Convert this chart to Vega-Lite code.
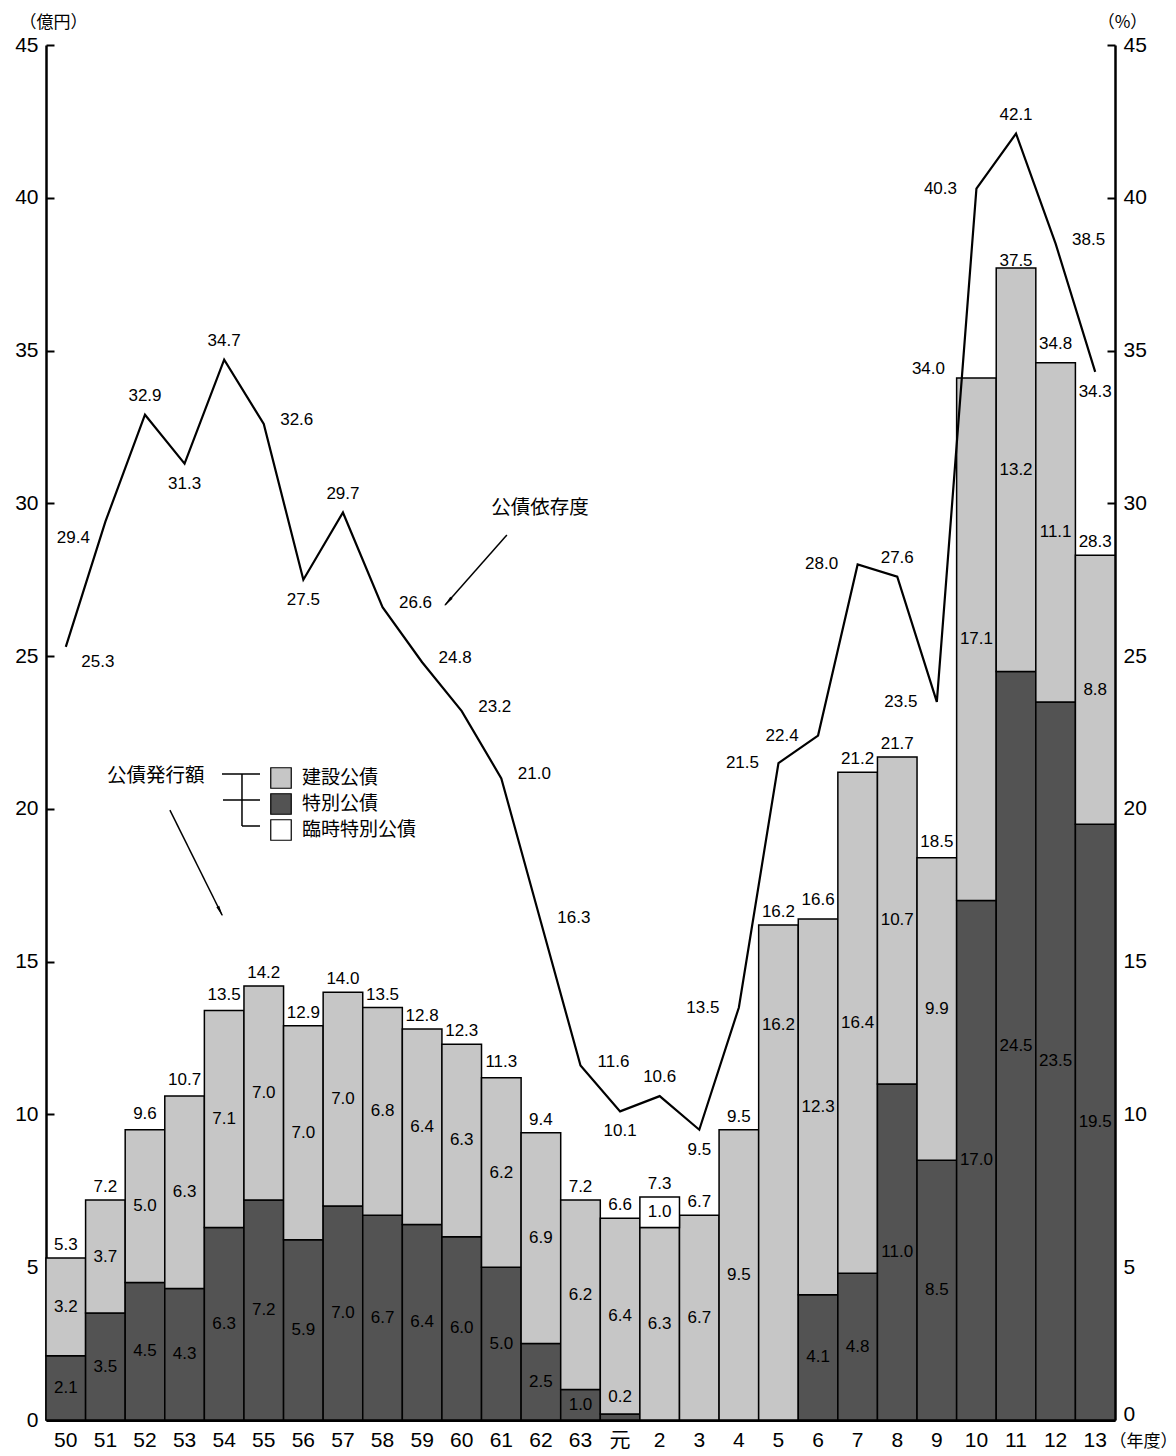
{
  "$schema": "https://vega.github.io/schema/vega-lite/v6.json",
  "width": 1069,
  "height": 1375,
  "autosize": {"type": "none"},
  "padding": {"left": 46, "top": 45, "right": 61, "bottom": 36},
  "background": "white",
  "config": {
    "font": "Liberation Sans",
    "view": {"stroke": null},
    "text": {"font": "Liberation Sans", "fontSize": 17, "color": "black"}
  },
  "datasets": {
    "bonds": [
      {"year": "50", "type": "特別公債", "value": 2.1}, {"year": "50", "type": "建設公債", "value": 3.2},
      {"year": "51", "type": "特別公債", "value": 3.5}, {"year": "51", "type": "建設公債", "value": 3.7},
      {"year": "52", "type": "特別公債", "value": 4.5}, {"year": "52", "type": "建設公債", "value": 5.0},
      {"year": "53", "type": "特別公債", "value": 4.3}, {"year": "53", "type": "建設公債", "value": 6.3},
      {"year": "54", "type": "特別公債", "value": 6.3}, {"year": "54", "type": "建設公債", "value": 7.1},
      {"year": "55", "type": "特別公債", "value": 7.2}, {"year": "55", "type": "建設公債", "value": 7.0},
      {"year": "56", "type": "特別公債", "value": 5.9}, {"year": "56", "type": "建設公債", "value": 7.0},
      {"year": "57", "type": "特別公債", "value": 7.0}, {"year": "57", "type": "建設公債", "value": 7.0},
      {"year": "58", "type": "特別公債", "value": 6.7}, {"year": "58", "type": "建設公債", "value": 6.8},
      {"year": "59", "type": "特別公債", "value": 6.4}, {"year": "59", "type": "建設公債", "value": 6.4},
      {"year": "60", "type": "特別公債", "value": 6.0}, {"year": "60", "type": "建設公債", "value": 6.3},
      {"year": "61", "type": "特別公債", "value": 5.0}, {"year": "61", "type": "建設公債", "value": 6.2},
      {"year": "62", "type": "特別公債", "value": 2.5}, {"year": "62", "type": "建設公債", "value": 6.9},
      {"year": "63", "type": "特別公債", "value": 1.0}, {"year": "63", "type": "建設公債", "value": 6.2},
      {"year": "元", "type": "特別公債", "value": 0.2}, {"year": "元", "type": "建設公債", "value": 6.4},
      {"year": "2", "type": "建設公債", "value": 6.3}, {"year": "2", "type": "臨時特別公債", "value": 1.0},
      {"year": "3", "type": "建設公債", "value": 6.7},
      {"year": "4", "type": "建設公債", "value": 9.5},
      {"year": "5", "type": "建設公債", "value": 16.2},
      {"year": "6", "type": "特別公債", "value": 4.1}, {"year": "6", "type": "建設公債", "value": 12.3},
      {"year": "7", "type": "特別公債", "value": 4.8}, {"year": "7", "type": "建設公債", "value": 16.4},
      {"year": "8", "type": "特別公債", "value": 11.0}, {"year": "8", "type": "建設公債", "value": 10.7},
      {"year": "9", "type": "特別公債", "value": 8.5}, {"year": "9", "type": "建設公債", "value": 9.9},
      {"year": "10", "type": "特別公債", "value": 17.0}, {"year": "10", "type": "建設公債", "value": 17.1},
      {"year": "11", "type": "特別公債", "value": 24.5}, {"year": "11", "type": "建設公債", "value": 13.2},
      {"year": "12", "type": "特別公債", "value": 23.5}, {"year": "12", "type": "建設公債", "value": 11.1},
      {"year": "13", "type": "特別公債", "value": 19.5}, {"year": "13", "type": "建設公債", "value": 8.8}
    ],
    "totals": [
      {"year": "50", "total": 5.3}, {"year": "51", "total": 7.2}, {"year": "52", "total": 9.6},
      {"year": "53", "total": 10.7}, {"year": "54", "total": 13.5}, {"year": "55", "total": 14.2},
      {"year": "56", "total": 12.9}, {"year": "57", "total": 14.0}, {"year": "58", "total": 13.5},
      {"year": "59", "total": 12.8}, {"year": "60", "total": 12.3}, {"year": "61", "total": 11.3},
      {"year": "62", "total": 9.4}, {"year": "63", "total": 7.2}, {"year": "元", "total": 6.6},
      {"year": "2", "total": 7.3}, {"year": "3", "total": 6.7}, {"year": "4", "total": 9.5},
      {"year": "5", "total": 16.2}, {"year": "6", "total": 16.6}, {"year": "7", "total": 21.2},
      {"year": "8", "total": 21.7}, {"year": "9", "total": 18.5}, {"year": "10", "total": 34.0},
      {"year": "11", "total": 37.5}, {"year": "12", "total": 34.8}, {"year": "13", "total": 28.3}
    ],
    "ratio": [
      {"year": "50", "ratio": 25.3}, {"year": "51", "ratio": 29.4}, {"year": "52", "ratio": 32.9},
      {"year": "53", "ratio": 31.3}, {"year": "54", "ratio": 34.7}, {"year": "55", "ratio": 32.6},
      {"year": "56", "ratio": 27.5}, {"year": "57", "ratio": 29.7}, {"year": "58", "ratio": 26.6},
      {"year": "59", "ratio": 24.8}, {"year": "60", "ratio": 23.2}, {"year": "61", "ratio": 21.0},
      {"year": "62", "ratio": 16.3}, {"year": "63", "ratio": 11.6}, {"year": "元", "ratio": 10.1},
      {"year": "2", "ratio": 10.6}, {"year": "3", "ratio": 9.5}, {"year": "4", "ratio": 13.5},
      {"year": "5", "ratio": 21.5}, {"year": "6", "ratio": 22.4}, {"year": "7", "ratio": 28.0},
      {"year": "8", "ratio": 27.6}, {"year": "9", "ratio": 23.5}, {"year": "10", "ratio": 40.3},
      {"year": "11", "ratio": 42.1}, {"year": "12", "ratio": 38.5}, {"year": "13", "ratio": 34.3}
    ]
  },
  "resolve": {
    "scale": {"x": "independent", "y": "independent"},
    "axis": {"x": "independent", "y": "independent"}
  },
  "layer": [
    {
      "data": {"name": "bonds"},
      "transform": [{"filter": "datum.type != '臨時特別公債'"}],
      "mark": {"type": "bar", "stroke": "black", "strokeWidth": 1.5},
      "encoding": {
        "x": {
          "field": "year", "type": "ordinal",
          "scale": {"type": "band", "domain": ["50","51","52","53","54","55","56","57","58","59","60","61","62","63","元","2","3","4","5","6","7","8","9","10","11","12","13"], "paddingInner": 0, "paddingOuter": 0},
          "axis": {
            "orient": "bottom", "ticks": false, "labelAngle": 0, "labelFontSize": 21, "labelColor": "black",
            "labelFont": "Liberation Sans, Noto Sans CJK JP", "labelPadding": 9,
            "domainColor": "black", "domainWidth": 3,
            "title": "（年度）", "titleFont": "Noto Sans CJK JP", "titleFontSize": 17, "titleFontWeight": "normal",
            "titleColor": "black", "titleX": 1097, "titleY": 21, "titleAlign": "center", "titleBaseline": "middle", "titleAngle": 0
          }
        },
        "y": {
          "field": "value", "type": "quantitative", "stack": "zero",
          "scale": {"domain": [0, 45], "nice": false},
          "axis": {
            "orient": "left", "values": [0,5,10,15,20,25,30,35,40,45], "grid": false,
            "tickSize": -8, "tickWidth": 2, "tickColor": "black", "domainColor": "black", "domainWidth": 2.5,
            "labelFontSize": 21, "labelColor": "black", "labelPadding": 16,
            "title": "（億円）", "titleFont": "Noto Sans CJK JP", "titleFontSize": 17, "titleFontWeight": "normal",
            "titleColor": "black", "titleAngle": 0, "titleX": 7, "titleY": -23, "titleAlign": "center", "titleBaseline": "middle"
          }
        },
        "order": {"field": "type", "sort": "descending"},
        "fill": {
          "field": "type", "type": "nominal",
          "scale": {"domain": ["建設公債", "特別公債", "臨時特別公債"], "range": ["#c6c6c6", "#535353", "#ffffff"]},
          "legend": {
            "orient": "none", "legendX": 61, "legendY": 722, "padding": 0,
            "title": "公債発行額", "titleOrient": "left", "titleAngle": 0, "titleFont": "Noto Sans CJK JP",
            "titleFontSize": 19.5, "titleFontWeight": "normal", "titleColor": "black", "titlePadding": 65,
            "titleAnchor": "start", "titleBaseline": "top",
            "symbolType": "square", "symbolSize": 420, "symbolStrokeColor": "black", "symbolStrokeWidth": 1.2,
            "labelFont": "Noto Sans CJK JP", "labelFontSize": 19, "labelColor": "black", "labelOffset": 10, "rowPadding": 0
          }
        }
      }
    },
    {
      "data": {"name": "bonds"},
      "transform": [
        {"filter": "datum.type != '特別公債'"},
        {"stack": "value", "groupby": ["year"], "sort": [{"field": "type", "order": "ascending"}], "as": ["v0", "v1"]},
        {"filter": "datum.type == '臨時特別公債'"}
      ],
      "mark": {"type": "bar", "stroke": "black", "strokeWidth": 1.5},
      "encoding": {
        "x": {"field": "year", "type": "ordinal", "scale": {"type": "band", "domain": ["50","51","52","53","54","55","56","57","58","59","60","61","62","63","元","2","3","4","5","6","7","8","9","10","11","12","13"], "paddingInner": 0, "paddingOuter": 0}, "axis": null},
        "y": {"field": "v0", "type": "quantitative", "scale": {"domain": [0, 45], "nice": false}, "axis": null},
        "y2": {"field": "v1"},
        "fill": {
          "field": "type", "type": "nominal",
          "scale": {"domain": ["建設公債", "特別公債", "臨時特別公債"], "range": ["#c6c6c6", "#535353", "#ffffff"]},
          "legend": {
            "orient": "none", "legendX": 61, "legendY": 722, "padding": 0,
            "title": "公債発行額", "titleOrient": "left", "titleAngle": 0, "titleFont": "Noto Sans CJK JP",
            "titleFontSize": 19.5, "titleFontWeight": "normal", "titleColor": "black", "titlePadding": 65,
            "titleAnchor": "start", "titleBaseline": "top",
            "symbolType": "square", "symbolSize": 420, "symbolStrokeColor": "black", "symbolStrokeWidth": 1.2,
            "labelFont": "Noto Sans CJK JP", "labelFontSize": 19, "labelColor": "black", "labelOffset": 10, "rowPadding": 0
          }
        }
      }
    },
    {
      "data": {"name": "bonds"},
      "transform": [{"filter": "datum.type != '臨時特別公債'"}],
      "mark": {"type": "text", "baseline": "middle"},
      "encoding": {
        "x": {"field": "year", "type": "ordinal", "scale": {"type": "band", "domain": ["50","51","52","53","54","55","56","57","58","59","60","61","62","63","元","2","3","4","5","6","7","8","9","10","11","12","13"], "paddingInner": 0, "paddingOuter": 0}, "axis": null},
        "y": {"field": "value", "type": "quantitative", "stack": "zero", "bandPosition": 0.5, "scale": {"domain": [0, 45], "nice": false}, "axis": null},
        "detail": {"field": "type", "type": "nominal"},
        "order": {"field": "type", "sort": "descending"},
        "text": {"condition": {"test": "datum.value < 0.5 || datum.year == '5'", "value": ""}, "field": "value", "type": "quantitative", "format": ".1f"}
      }
    },
    {
      "data": {"name": "bonds"},
      "transform": [
        {"filter": "datum.type != '特別公債'"},
        {"stack": "value", "groupby": ["year"], "sort": [{"field": "type", "order": "ascending"}], "as": ["v0", "v1"]},
        {"filter": "datum.type == '臨時特別公債'"}
      ],
      "mark": {"type": "text", "baseline": "middle", "dy": 15},
      "encoding": {
        "x": {"field": "year", "type": "ordinal", "scale": {"type": "band", "domain": ["50","51","52","53","54","55","56","57","58","59","60","61","62","63","元","2","3","4","5","6","7","8","9","10","11","12","13"], "paddingInner": 0, "paddingOuter": 0}, "axis": null},
        "y": {"field": "v1", "type": "quantitative", "scale": {"domain": [0, 45], "nice": false}, "axis": null},
        "text": {"field": "value", "type": "quantitative", "format": ".1f"}
      }
    },
    {
      "data": {"name": "bonds"},
      "transform": [{"filter": "datum.year == '元' && datum.type == '特別公債'"}],
      "mark": {"type": "text", "baseline": "middle", "dy": -17},
      "encoding": {
        "x": {"field": "year", "type": "ordinal", "scale": {"type": "band", "domain": ["50","51","52","53","54","55","56","57","58","59","60","61","62","63","元","2","3","4","5","6","7","8","9","10","11","12","13"], "paddingInner": 0, "paddingOuter": 0}, "axis": null},
        "y": {"field": "value", "type": "quantitative", "scale": {"domain": [0, 45], "nice": false}, "axis": null},
        "text": {"field": "value", "type": "quantitative", "format": ".1f"}
      }
    },
    {
      "data": {"name": "bonds"},
      "transform": [{"filter": "datum.year == '5'"}],
      "mark": {"type": "text", "baseline": "middle", "dy": 100},
      "encoding": {
        "x": {"field": "year", "type": "ordinal", "scale": {"type": "band", "domain": ["50","51","52","53","54","55","56","57","58","59","60","61","62","63","元","2","3","4","5","6","7","8","9","10","11","12","13"], "paddingInner": 0, "paddingOuter": 0}, "axis": null},
        "y": {"field": "value", "type": "quantitative", "scale": {"domain": [0, 45], "nice": false}, "axis": null},
        "text": {"field": "value", "type": "quantitative", "format": ".1f"}
      }
    },
    {
      "data": {"name": "totals"},
      "transform": [{"filter": "datum.year != '10'"}],
      "mark": {"type": "text", "baseline": "middle", "dy": -13},
      "encoding": {
        "x": {"field": "year", "type": "ordinal", "scale": {"type": "band", "domain": ["50","51","52","53","54","55","56","57","58","59","60","61","62","63","元","2","3","4","5","6","7","8","9","10","11","12","13"], "paddingInner": 0, "paddingOuter": 0}, "axis": null},
        "y": {"field": "total", "type": "quantitative", "scale": {"domain": [0, 45], "nice": false}, "axis": null},
        "text": {"field": "total", "type": "quantitative", "format": ".1f"}
      }
    },
    {
      "data": {"name": "totals"},
      "transform": [{"filter": "datum.year == '10'"}],
      "mark": {"type": "text", "baseline": "middle", "dx": -48, "dy": -12},
      "encoding": {
        "x": {"field": "year", "type": "ordinal", "scale": {"type": "band", "domain": ["50","51","52","53","54","55","56","57","58","59","60","61","62","63","元","2","3","4","5","6","7","8","9","10","11","12","13"], "paddingInner": 0, "paddingOuter": 0}, "axis": null},
        "y": {"field": "total", "type": "quantitative", "scale": {"domain": [0, 45], "nice": false}, "axis": null},
        "text": {"field": "total", "type": "quantitative", "format": ".1f"}
      }
    },
    {
      "data": {"name": "ratio"},
      "mark": {"type": "line", "color": "black", "strokeWidth": 2.2},
      "encoding": {
        "x": {"field": "year", "type": "ordinal", "sort": null, "scale": {"type": "band", "domain": ["50","51","52","53","54","55","56","57","58","59","60","61","62","63","元","2","3","4","5","6","7","8","9","10","11","12","13"], "paddingInner": 0, "paddingOuter": 0}, "axis": null},
        "y": {
          "field": "ratio", "type": "quantitative",
          "scale": {"domain": [0, 45], "nice": false},
          "axis": {
            "orient": "right", "values": [0,5,10,15,20,25,30,35,40,45], "grid": false,
            "tickSize": -8, "tickWidth": 2, "tickColor": "black", "domainColor": "black", "domainWidth": 2.5,
            "labelFontSize": 21, "labelColor": "black", "labelPadding": 16,
            "labelBaseline": {"condition": {"test": "datum.value == 0", "value": "alphabetic"}, "value": "middle"},
            "title": "（%）", "titleFont": "Noto Sans CJK JP", "titleFontSize": 17, "titleFontWeight": "normal",
            "titleColor": "black", "titleAngle": 0, "titleX": 7, "titleY": -23, "titleAlign": "center", "titleBaseline": "middle"
          }
        }
      }
    },
    {
      "data": {"name": "ratio"},
      "transform": [{"filter": {"field": "year", "oneOf": ["55","58","59","60","61","62","63","12"]}}],
      "mark": {"type": "text", "baseline": "middle", "dx": 33, "dy": -4},
      "encoding": {
        "x": {"field": "year", "type": "ordinal", "scale": {"type": "band", "domain": ["50","51","52","53","54","55","56","57","58","59","60","61","62","63","元","2","3","4","5","6","7","8","9","10","11","12","13"], "paddingInner": 0, "paddingOuter": 0}, "axis": null},
        "y": {"field": "ratio", "type": "quantitative", "scale": {"domain": [0, 45], "nice": false}, "axis": null},
        "text": {"field": "ratio", "type": "quantitative", "format": ".1f"}
      }
    },
    {
      "data": {"name": "ratio"},
      "transform": [{"filter": {"field": "year", "oneOf": ["50"]}}],
      "mark": {"type": "text", "baseline": "middle", "dx": 32, "dy": 15},
      "encoding": {
        "x": {"field": "year", "type": "ordinal", "scale": {"type": "band", "domain": ["50","51","52","53","54","55","56","57","58","59","60","61","62","63","元","2","3","4","5","6","7","8","9","10","11","12","13"], "paddingInner": 0, "paddingOuter": 0}, "axis": null},
        "y": {"field": "ratio", "type": "quantitative", "scale": {"domain": [0, 45], "nice": false}, "axis": null},
        "text": {"field": "ratio", "type": "quantitative", "format": ".1f"}
      }
    },
    {
      "data": {"name": "ratio"},
      "transform": [{"filter": {"field": "year", "oneOf": ["51"]}}],
      "mark": {"type": "text", "baseline": "middle", "dx": -32, "dy": 16},
      "encoding": {
        "x": {"field": "year", "type": "ordinal", "scale": {"type": "band", "domain": ["50","51","52","53","54","55","56","57","58","59","60","61","62","63","元","2","3","4","5","6","7","8","9","10","11","12","13"], "paddingInner": 0, "paddingOuter": 0}, "axis": null},
        "y": {"field": "ratio", "type": "quantitative", "scale": {"domain": [0, 45], "nice": false}, "axis": null},
        "text": {"field": "ratio", "type": "quantitative", "format": ".1f"}
      }
    },
    {
      "data": {"name": "ratio"},
      "transform": [{"filter": {"field": "year", "oneOf": ["4","5","6","7","9","10"]}}],
      "mark": {"type": "text", "baseline": "middle", "dx": -36, "dy": 0},
      "encoding": {
        "x": {"field": "year", "type": "ordinal", "scale": {"type": "band", "domain": ["50","51","52","53","54","55","56","57","58","59","60","61","62","63","元","2","3","4","5","6","7","8","9","10","11","12","13"], "paddingInner": 0, "paddingOuter": 0}, "axis": null},
        "y": {"field": "ratio", "type": "quantitative", "scale": {"domain": [0, 45], "nice": false}, "axis": null},
        "text": {"field": "ratio", "type": "quantitative", "format": ".1f"}
      }
    },
    {
      "data": {"name": "ratio"},
      "transform": [{"filter": {"field": "year", "oneOf": ["52","54","57","2","8","11"]}}],
      "mark": {"type": "text", "baseline": "middle", "dy": -19},
      "encoding": {
        "x": {"field": "year", "type": "ordinal", "scale": {"type": "band", "domain": ["50","51","52","53","54","55","56","57","58","59","60","61","62","63","元","2","3","4","5","6","7","8","9","10","11","12","13"], "paddingInner": 0, "paddingOuter": 0}, "axis": null},
        "y": {"field": "ratio", "type": "quantitative", "scale": {"domain": [0, 45], "nice": false}, "axis": null},
        "text": {"field": "ratio", "type": "quantitative", "format": ".1f"}
      }
    },
    {
      "data": {"name": "ratio"},
      "transform": [{"filter": {"field": "year", "oneOf": ["53","56","元","3","13"]}}],
      "mark": {"type": "text", "baseline": "middle", "dy": 20},
      "encoding": {
        "x": {"field": "year", "type": "ordinal", "scale": {"type": "band", "domain": ["50","51","52","53","54","55","56","57","58","59","60","61","62","63","元","2","3","4","5","6","7","8","9","10","11","12","13"], "paddingInner": 0, "paddingOuter": 0}, "axis": null},
        "y": {"field": "ratio", "type": "quantitative", "scale": {"domain": [0, 45], "nice": false}, "axis": null},
        "text": {"field": "ratio", "type": "quantitative", "format": ".1f"}
      }
    },
    {
      "data": {"values": [{}]},
      "mark": {"type": "text", "text": "公債依存度", "font": "Noto Sans CJK JP", "fontSize": 19.5, "baseline": "middle"},
      "encoding": {
        "x": {"datum": 12.48, "type": "quantitative", "scale": {"domain": [0, 27], "nice": false, "zero": false}, "axis": null},
        "y": {"datum": 29.84, "type": "quantitative", "scale": {"domain": [0, 45], "nice": false, "zero": false}, "axis": null}
      }
    },
    {
      "data": {"values": [{}]},
      "mark": {"type": "rule", "color": "black", "strokeWidth": 1.5},
      "encoding": {
        "x": {"datum": 11.64, "type": "quantitative", "scale": {"domain": [0, 27], "nice": false, "zero": false}, "axis": null},
        "y": {"datum": 28.96, "type": "quantitative", "scale": {"domain": [0, 45], "nice": false, "zero": false}, "axis": null},
        "x2": {"datum": 10.08},
        "y2": {"datum": 26.67}
      }
    },
    {
      "data": {"values": [{}]},
      "mark": {"type": "point", "shape": "wedge", "filled": true, "color": "black", "size": 160, "angle": 221.5, "opacity": 1},
      "encoding": {
        "x": {"datum": 10.18, "type": "quantitative", "scale": {"domain": [0, 27], "nice": false, "zero": false}, "axis": null},
        "y": {"datum": 26.82, "type": "quantitative", "scale": {"domain": [0, 45], "nice": false, "zero": false}, "axis": null}
      }
    },
    {
      "data": {"values": [{}]},
      "mark": {"type": "rule", "color": "black", "strokeWidth": 1.5},
      "encoding": {
        "x": {"datum": 3.13, "type": "quantitative", "scale": {"domain": [0, 27], "nice": false, "zero": false}, "axis": null},
        "y": {"datum": 19.96, "type": "quantitative", "scale": {"domain": [0, 45], "nice": false, "zero": false}, "axis": null},
        "x2": {"datum": 4.45},
        "y2": {"datum": 16.52}
      }
    },
    {
      "data": {"values": [{}]},
      "mark": {"type": "point", "shape": "wedge", "filled": true, "color": "black", "size": 160, "angle": 153.6, "opacity": 1},
      "encoding": {
        "x": {"datum": 4.38, "type": "quantitative", "scale": {"domain": [0, 27], "nice": false, "zero": false}, "axis": null},
        "y": {"datum": 16.70, "type": "quantitative", "scale": {"domain": [0, 45], "nice": false, "zero": false}, "axis": null}
      }
    },
    {
      "data": {"values": [{}]},
      "mark": {"type": "rule", "color": "black", "strokeWidth": 1.5},
      "encoding": {
        "x": {"datum": 4.445, "type": "quantitative", "scale": {"domain": [0, 27], "nice": false, "zero": false}, "axis": null},
        "y": {"datum": 21.14, "type": "quantitative", "scale": {"domain": [0, 45], "nice": false, "zero": false}, "axis": null},
        "x2": {"datum": 5.405},
        "y2": {"datum": 21.14}
      }
    },
    {
      "data": {"values": [{}]},
      "mark": {"type": "rule", "color": "black", "strokeWidth": 1.5},
      "encoding": {
        "x": {"datum": 4.47, "type": "quantitative", "scale": {"domain": [0, 27], "nice": false, "zero": false}, "axis": null},
        "y": {"datum": 20.29, "type": "quantitative", "scale": {"domain": [0, 45], "nice": false, "zero": false}, "axis": null},
        "x2": {"datum": 5.405},
        "y2": {"datum": 20.29}
      }
    },
    {
      "data": {"values": [{}]},
      "mark": {"type": "rule", "color": "black", "strokeWidth": 1.5},
      "encoding": {
        "x": {"datum": 4.95, "type": "quantitative", "scale": {"domain": [0, 27], "nice": false, "zero": false}, "axis": null},
        "y": {"datum": 21.14, "type": "quantitative", "scale": {"domain": [0, 45], "nice": false, "zero": false}, "axis": null},
        "x2": {"datum": 4.95},
        "y2": {"datum": 19.44}
      }
    },
    {
      "data": {"values": [{}]},
      "mark": {"type": "rule", "color": "black", "strokeWidth": 1.5},
      "encoding": {
        "x": {"datum": 4.95, "type": "quantitative", "scale": {"domain": [0, 27], "nice": false, "zero": false}, "axis": null},
        "y": {"datum": 19.44, "type": "quantitative", "scale": {"domain": [0, 45], "nice": false, "zero": false}, "axis": null},
        "x2": {"datum": 5.405},
        "y2": {"datum": 19.44}
      }
    }
  ]
}
